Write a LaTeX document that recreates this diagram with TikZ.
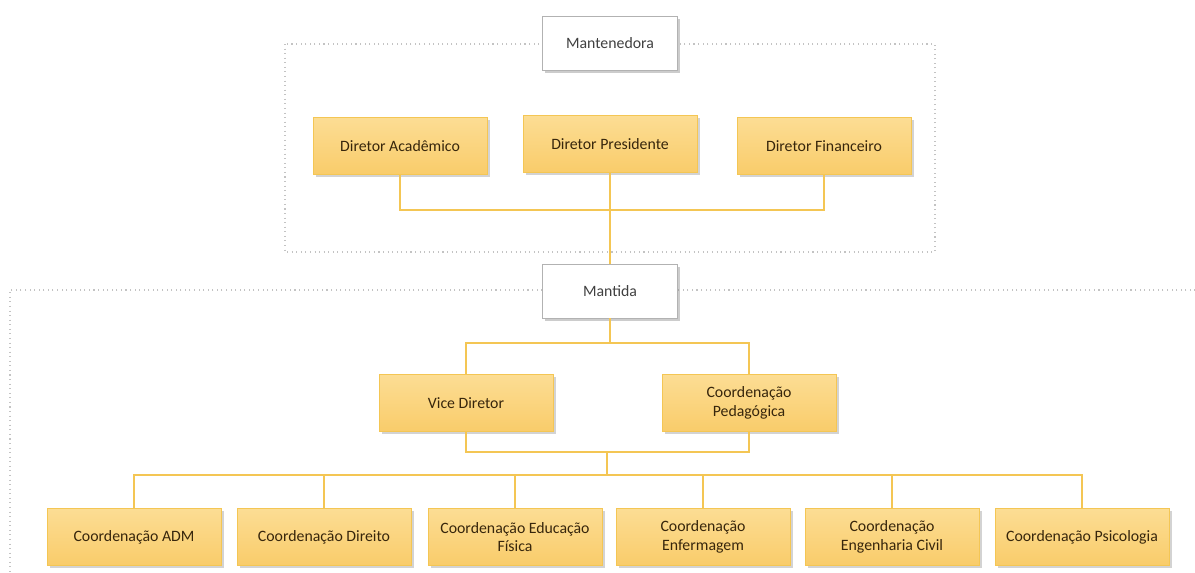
\documentclass[tikz,border=0pt]{standalone}
\usepackage{fontspec}
\setmainfont{Carlito}
\usetikzlibrary{shadows}
\definecolor{boxtop}{RGB}{252,221,148}
\definecolor{boxbot}{RGB}{249,204,106}
\definecolor{gold}{RGB}{244,198,84}
\definecolor{dotgray}{RGB}{195,195,195}
\definecolor{txtdark}{RGB}{55,38,12}
\tikzset{
    unit/.style={draw=gold, line width=0.5pt, top color=boxtop, bottom color=boxbot,
        minimum width=3.48cm, minimum height=1.14cm, align=center,
        font=\fontsize{9}{10.5}\selectfont, text=txtdark,
        drop shadow={shadow xshift=1.5pt, shadow yshift=-1.5pt, opacity=0.35}},
    head/.style={draw=gray!60, fill=white, minimum width=2.7cm, minimum height=1.08cm,
        font=\fontsize{9}{10.5}\selectfont, text=black!75,
        drop shadow={shadow xshift=1.5pt, shadow yshift=-1.5pt, opacity=0.4}},
    conn/.style={draw=gold, line width=0.6pt},
    dotbox/.style={draw=dotgray, dotted, line width=0.6pt}
}
\begin{document}
\begin{tikzpicture}[x=0.02cm,y=-0.02cm]
        \useasboundingbox (0,0) rectangle (1195,572);
        % dotted frames
        \draw[dotbox] (285,44) rectangle (935,252);
        \draw[dotbox] (1200,290) -- (10,290) -- (10,580);
        % top level
        \node[head] (mantenedora) at (610,43) {Mantenedora};
        \node[unit] (acad) at (400,146) {Diretor Acadêmico};
        \node[unit] (pres) at (610,144) {Diretor Presidente};
        \node[unit] (fin) at (824,146) {Diretor Financeiro};
        \node[head] (mantida) at (610,291) {Mantida};
        \node[unit] (vice) at (466,403) {Vice Diretor};
        \node[unit] (ped) at (749,403) {Coordenação\\Pedagógica};
        % coordinations
        \foreach \x/\n/\t in {134/adm/{Coordenação ADM}, 324/dir/{Coordenação Direito},
            515/edf/{Coordenação Educação\\Física}, 703/enf/{Coordenação\\Enfermagem},
            892/eng/{Coordenação\\Engenharia Civil}, 1082/psi/{Coordenação Psicologia}} {
            \node[unit] (\n) at (\x,537) {\t};
        }
        \coordinate (j1) at (610,210);
        \coordinate (j2) at (610,343);
        \coordinate (j3) at (607,452);
        \coordinate (j4) at (607,475);
        % connectors
        \draw[conn] (acad.south) -- (acad.south |- j1) -| (fin.south);
        \draw[conn] (pres) -- (mantida);
        \draw[conn] (mantida) -- (j2);
        \draw[conn] (vice.north) -- (vice.north |- j2) -| (ped.north);
        \draw[conn] (vice.south) -- (vice.south |- j3) -| (ped.south);
        \draw[conn] (j3) -- (j4);
        \draw[conn] (adm.north) -- (adm.north |- j4) -| (psi.north);
        \foreach \n in {dir,edf,enf,eng} {
            \draw[conn] (\n.north) -- (\n.north |- j4);
        }
    \end{tikzpicture}
\end{document}
